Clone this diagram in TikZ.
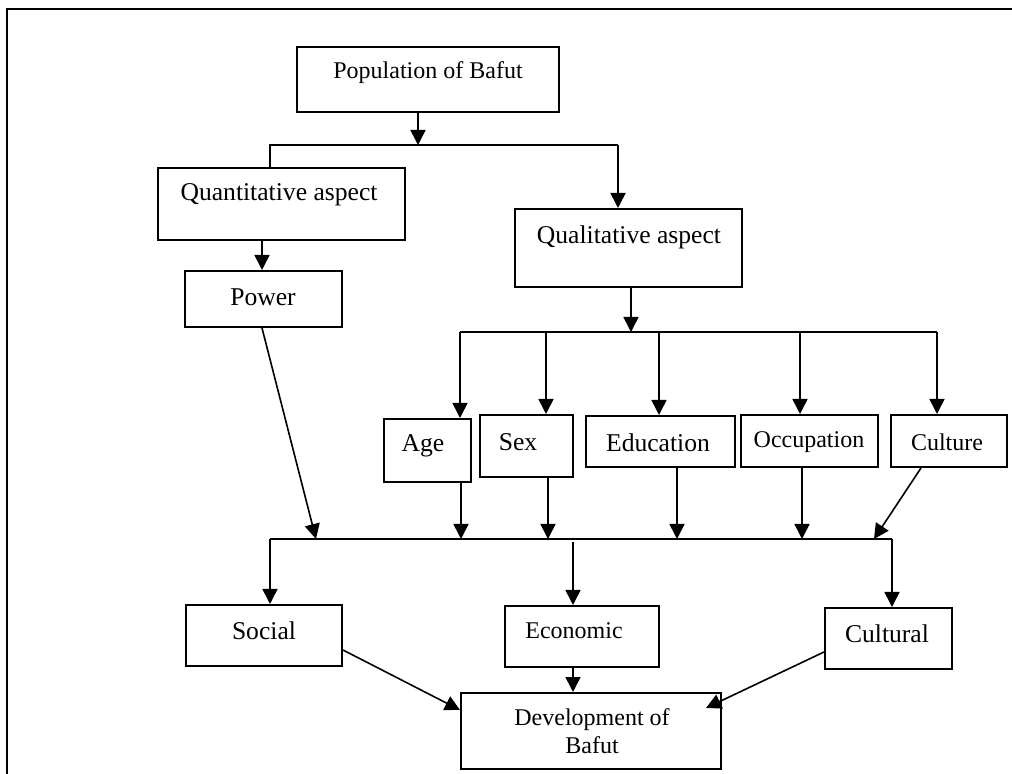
\documentclass[tikz,border=0pt]{standalone}
\usepackage{fontspec}
\setmainfont{Liberation Serif}
\usetikzlibrary{arrows.meta, fit, calc}

\begin{document}
\begin{tikzpicture}[x = 0.5pt, y = -0.5pt,
	box/.style = {draw, line width = 1pt, inner sep = 0pt, fit = {#1}},
	txt/.style = {font = \fontsize{12}{14}\selectfont, inner sep = 0pt, align = center},
	wide/.style = {font = \fontsize{12.8}{15}\selectfont},
	link/.style = {line width = 0.8pt},
	arr/.style = {line width = 0.8pt, -{Triangle[width = 7.5pt, length = 7.5pt]}}]
\useasboundingbox (0, 0) rectangle (1012, 774);
\draw[line width = 0.8pt] (7, 774) -- (7, 9) -- (1012, 9);

% boxes
\node[box = {(297, 47) (559, 112)}] (pop) {};
\node[box = {(158, 168) (405, 240)}] (quan) {};
\node[box = {(185, 271) (342, 327)}] (power) {};
\node[box = {(515, 209) (742, 287)}] (qual) {};
\node[box = {(384, 419) (471, 482)}] (age) {};
\node[box = {(480, 415) (573, 477)}] (sex) {};
\node[box = {(586, 416) (735, 467)}] (edu) {};
\node[box = {(741, 415) (878, 467)}] (occ) {};
\node[box = {(891, 415) (1007, 467)}] (cult) {};
\node[box = {(186, 605) (342, 666)}] (social) {};
\node[box = {(505, 606) (659, 667)}] (econ) {};
\node[box = {(825, 608) (952, 669)}] (cultural) {};
\node[box = {(461, 693) (721, 769)}] (dev) {};

% texts
\node[txt] (popt) at (428, 73) {Population of Bafut};
\node[txt, wide] (quant) at (279, 195) {Quantitative aspect};
\node[txt, wide] (powert) at (263, 297) {Power};
\node[txt, wide] (qualt) at (629, 237) {Qualitative aspect};
\node[txt, wide] (aget) at (423, 446) {Age};
\node[txt, wide] (sext) at (518, 442) {Sex};
\node[txt, wide] (edut) at (658, 443) {Education};
\node[txt] (occt) at (809, 442) {Occupation};
\node[txt] (cultt) at (947, 442) {Culture};
\node[txt, wide] (socialt) at (264, 631) {Social};
\node[txt] (econt) at (574, 631) {Economic};
\node[txt, wide] (culturalt) at (887, 634) {Cultural};
\node[txt] (devt) at (592, 731) {Development of\\Bafut};

% junctions
\coordinate (busa) at (418, 145);
\coordinate (busb) at (631, 332);
\coordinate (busc) at (316, 539);

% population to the two aspects
\draw[arr] ($(pop.south) + (-10, 0)$) -- (busa);
\draw[link] (quan.north -| 270, 0) -- (270, 145) -- (618, 145);
\draw[arr] (618, 145) -- (qual.north -| 618, 0);
\draw[arr] (quan.south -| 262, 0) -- (power.north -| 262, 0);

% qualitative aspect to its parts
\draw[arr] (qual.south -| busb) -- (busb);
\draw[link] (460, 332) -- (937, 332);
\foreach \x/\n in {460/age, 546/sex, 659/edu, 800/occ, 937/cult}
	\draw[arr] (\x, 332) -- (\n.north -| \x, 0);

% parts to the lower bus
\draw[link] (270, 539) -- (892, 539);
\draw[arr] (power.south -| 262, 0) -- (busc);
\foreach \x/\n in {461/age, 548/sex, 677/edu, 802/occ}
	\draw[arr] (\n.south -| \x, 0) -- (\x, 539);
\draw[arr] (cult.south -| 921, 0) -- (874, 539);

% lower bus to the three sides
\draw[arr] (270, 539) -- (social.north -| 270, 0);
\draw[arr] (573, 542) -- (econ.north -| 573, 0);
\draw[arr] (892, 539) -- (cultural.north -| 892, 0);

% into development
\coordinate (devl) at (460, 710);
\coordinate (devr) at (706, 708);
\draw[arr] (social.east |- 0, 650) -- (devl);
\draw[arr] (econ.south -| 573, 0) -- (dev.north -| 573, 0);
\draw[arr] (cultural.west |- 0, 652) -- (devr);
\end{tikzpicture}
\end{document}
